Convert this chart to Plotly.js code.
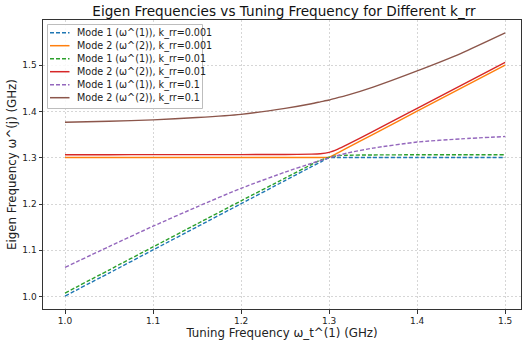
<!DOCTYPE html>
<html>
<head>
<meta charset="utf-8">
<script src="https://cdn.plot.ly/plotly-3.0.1.min.js"></script>
<style>html,body{margin:0;padding:0;background:#fff}#chart{width:525px;height:344px}</style>
</head>
<body>
<div id="chart"></div>
<script>
const tuning = [1.0, 1.05, 1.1, 1.15, 1.2, 1.25, 1.28, 1.29, 1.3, 1.31, 1.32, 1.35, 1.4, 1.45, 1.5];

const mode1_k0001 = [1.001, 1.0507, 1.1007, 1.1507, 1.2007, 1.2507, 1.2807, 1.2906, 1.3002, 1.3006, 1.3007, 1.3007, 1.3007, 1.3007, 1.3007];
const mode2_k0001 = [1.3007, 1.3007, 1.3007, 1.3007, 1.3007, 1.3007, 1.3007, 1.3008, 1.3012, 1.3107, 1.3207, 1.3507, 1.4007, 1.4507, 1.5005];

const mode1_k001 = [1.0075, 1.0573, 1.1072, 1.1571, 1.2068, 1.2562, 1.2855, 1.2946, 1.3010, 1.3046, 1.3055, 1.3062, 1.3065, 1.3066, 1.3067];
const mode2_k001 = [1.3067, 1.3067, 1.3068, 1.3068, 1.3069, 1.3072, 1.3079, 1.3088, 1.3117, 1.3188, 1.3279, 1.3572, 1.4070, 1.4568, 1.5065];

const mode1_k01 = [1.063, 1.108, 1.152, 1.194, 1.234, 1.269, 1.288, 1.294, 1.300, 1.305, 1.310, 1.321, 1.334, 1.341, 1.346];
const mode2_k01 = [1.377, 1.379, 1.382, 1.387, 1.394, 1.407, 1.417, 1.421, 1.425, 1.430, 1.435, 1.453, 1.488, 1.526, 1.570];

const names = [
  "Mode 1 (ω^(1)), k_rr=0.001", "Mode 2 (ω^(2)), k_rr=0.001",
  "Mode 1 (ω^(1)), k_rr=0.01", "Mode 2 (ω^(2)), k_rr=0.01",
  "Mode 1 (ω^(1)), k_rr=0.1", "Mode 2 (ω^(2)), k_rr=0.1"
];
const tickVals = [1.0, 1.1, 1.2, 1.3, 1.4, 1.5];
const tickText = ["1.0", "1.1", "1.2", "1.3", "1.4", "1.5"];
const series = [mode1_k0001, mode2_k0001, mode1_k001, mode2_k001, mode1_k01, mode2_k01];
const colors = ["#1f77b4", "#ff7f0e", "#2ca02c", "#d62728", "#9467bd", "#8c564b"];
const dashOf = i => (i % 2 === 0) ? "4px,2px" : "solid";

const traces = series.map((ys, i) => ({
  x: tuning, y: ys, name: names[i], type: "scatter", mode: "lines", showlegend: false,
  line: {color: colors[i], width: 1.4, dash: dashOf(i), shape: "spline", smoothing: 0.6}
}));

// plot area in pixels: x 43..521, y 20..309
const PX = px => (px - 43) / 478;
const PY = py => (309 - py) / 289;

// compact legend box (matplotlib-like)
const shapes = [{
  type: "rect", xref: "paper", yref: "paper", layer: "above",
  x0: PX(47.5), x1: PX(202.5), y0: PY(108.5), y1: PY(24.5),
  fillcolor: "rgba(255,255,255,0.85)", line: {color: "#bdbdbd", width: 1}
}];
const annotations = [];
names.forEach((nm, i) => {
  const yc = PY(32.7 + 13 * i);
  shapes.push({type: "line", xref: "paper", yref: "paper", layer: "above",
    x0: PX(50), x1: PX(69.5), y0: yc, y1: yc,
    line: {color: colors[i], width: 1.5, dash: dashOf(i)}});
  annotations.push({xref: "paper", yref: "paper", x: PX(75), y: yc, xanchor: "left", yanchor: "middle",
    text: nm, showarrow: false, font: {size: 9.6, color: "#222"}});
});

const axisCommon = {
  showline: true, mirror: true, linecolor: "#333", linewidth: 1,
  ticks: "outside", ticklen: 3.5, tickcolor: "#333", tickwidth: 1,
  showgrid: true, gridcolor: "#d6d6d6", griddash: "2px,2px", gridwidth: 1,
  zeroline: false, tickfont: {size: 9, color: "#222"}
};

const layout = {
  width: 525, height: 344,
  margin: {l: 43, r: 4, t: 20, b: 35},
  paper_bgcolor: "#fff", plot_bgcolor: "#fff",
  font: {family: "DejaVu Sans, sans-serif", color: "#222"},
  title: {text: "Eigen Frequencies vs Tuning Frequency for Different k_rr", font: {size: 13.6, color: "#111"},
    x: 284 / 525, xanchor: "center", y: 1 - 11 / 344, yanchor: "middle"},
  xaxis: Object.assign({}, axisCommon, {
    range: [0.975, 1.518], tickvals: tickVals, ticktext: tickText,
    title: {text: "Tuning Frequency ω_t^(1) (GHz)", font: {size: 11.8}, standoff: 3}
  }),
  yaxis: Object.assign({}, axisCommon, {
    range: [0.973, 1.598], tickvals: tickVals, ticktext: tickText,
    title: {text: "Eigen Frequency ω^(j) (GHz)", font: {size: 11.8}, standoff: 3}
  }),
  shapes: shapes,
  annotations: annotations,
  showlegend: false
};

Plotly.newPlot("chart", traces, layout, {staticPlot: true, displayModeBar: false});
</script>
</body>
</html>
